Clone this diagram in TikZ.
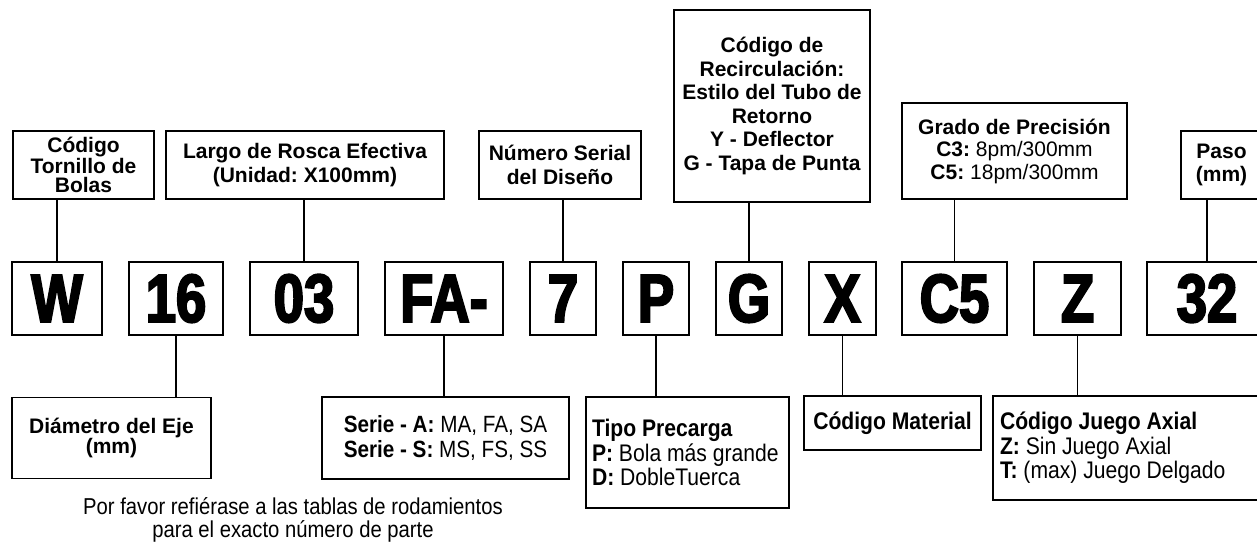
\documentclass[tikz,border=0pt]{standalone}
\usepackage{fontspec}
\setmainfont{Liberation Sans}
\newfontfamily\narrowfont[FakeStretch=0.88]{Liberation Sans}
\newfontfamily\codefont[FakeStretch=0.8,BoldFeatures={FakeBold=3}]{Liberation Sans}
\frenchspacing
\tikzset{
  lbl/.style={draw, line width=1.4pt, inner sep=0pt, align=flush center,
    font=\fontsize{21}{23.5}\selectfont\bfseries},
  nlbl/.style={draw, line width=1.4pt, inner sep=0pt, align=flush center,
    font=\narrowfont\fontsize{24}{24.5}\selectfont},
  codebox/.style={draw, line width=2.8pt, inner sep=0pt, minimum height=73pt,
    font=\codefont\fontsize{68}{68}\selectfont\bfseries},
  conn/.style={line width=1.4pt},
}
\begin{document}
\begin{tikzpicture}[x=1pt,y=-1pt]
\useasboundingbox (0,0) rectangle (1257,542);
\clip (0,0) rectangle (1257,542);
% top labels
\node[lbl, minimum width=141pt, minimum height=68pt, font=\fontsize{21}{19}\selectfont\bfseries] (torn) at (83.5,165) {Código\\Tornillo de\\Bolas};
\node[lbl, minimum width=278pt, minimum height=68pt] (largo) at (305,165) {Largo de Rosca Efectiva\\(Unidad: X100mm)};
\node[lbl, minimum width=162pt, minimum height=68pt] (num) at (560,165) {Número Serial\\del Diseño};
\node[lbl, minimum width=196pt, minimum height=192pt] (recirc) at (772,106) {Código de\\Recirculación:\\Estilo del Tubo de\\Retorno\\Y - Deflector\\G - Tapa de Punta};
\node[lbl, minimum width=225pt, minimum height=96pt, font=\fontsize{21}{22.5}\selectfont\bfseries] (grado) at (1014.5,151) {Grado de Precisión\\C3: {\mdseries 8pm/300mm}\\C5: {\mdseries 18pm/300mm}};
\node[lbl, minimum width=81pt, minimum height=68pt] (paso) at (1221.5,165) {Paso\\(mm)};
% code row
\node[codebox, minimum width=90pt] (cW) at (57,298.5) {W};
\node[codebox, minimum width=94pt] (c16) at (176,298.5) {16};
\node[codebox, minimum width=108pt] (c03) at (304,298.5) {03};
\node[codebox, minimum width=118pt] (cFA) at (444,298.5) {FA-};
\node[codebox, minimum width=66pt] (c7) at (563,298.5) {7};
\node[codebox, minimum width=66pt] (cP) at (656,298.5) {P};
\node[codebox, minimum width=66pt] (cG) at (749,298.5) {G};
\node[codebox, minimum width=67pt] (cX) at (842.5,298.5) {X};
\node[codebox, minimum width=105pt] (cC5) at (954.5,298.5) {C5};
\node[codebox, minimum width=87pt] (cZ) at (1077.5,298.5) {Z};
\node[codebox, minimum width=120pt] (c32) at (1207,298.5) {32};
% bottom labels
\node[lbl, minimum width=199pt, minimum height=81pt, font=\fontsize{21}{18.5}\selectfont\bfseries] (diam) at (111.5,438) {Diámetro del Eje\\(mm)};
\node[nlbl, minimum width=247pt, minimum height=82pt, font=\narrowfont\fontsize{23.5}{25}\selectfont] (serie) at (445.5,438) {{\bfseries Serie - A:} MA, FA, SA\\{\bfseries Serie - S:} MS, FS, SS};
\node[nlbl, align=flush left, text width=191pt, inner xsep=6pt, minimum height=111pt] (tipo) at (687.5,452.5) {{\bfseries Tipo Precarga}\\{\bfseries P:} Bola más grande\\{\bfseries D:} DobleTuerca};
\node[nlbl, minimum width=177pt, minimum height=54pt] (mat) at (892.5,423) {\bfseries Código Material};
\node[nlbl, align=flush left, text width=263pt, inner xsep=7pt, minimum height=104pt] (juego) at (1131.5,448) {{\bfseries Código Juego Axial}\\{\bfseries Z:} Sin Juego Axial\\{\bfseries T:} (max) Juego Delgado};
\node[font=\narrowfont\fontsize{23}{23.5}\selectfont, align=flush center, inner sep=0pt] (foot) at (293,520) {Por favor refiérase a las tablas de rodamientos\\para el exacto número de parte};
% connectors
\draw[conn] (cW.north) -- (cW.north |- torn.south);
\draw[conn] (c03.north) -- (c03.north |- largo.south);
\draw[conn] (c7.north) -- (c7.north |- num.south);
\draw[conn] (cG.north) -- (cG.north |- recirc.south);
\draw[conn] (cC5.north) -- (cC5.north |- grado.south);
\draw[conn] (c32.north) -- (c32.north |- paso.south);
\draw[conn] (c16.south) -- (c16.south |- diam.north);
\draw[conn] (cFA.south) -- (cFA.south |- serie.north);
\draw[conn] (cP.south) -- (cP.south |- tipo.north);
\draw[conn] (cX.south) -- (cX.south |- mat.north);
\draw[conn] (cZ.south) -- (cZ.south |- juego.north);
\end{tikzpicture}
\end{document}
